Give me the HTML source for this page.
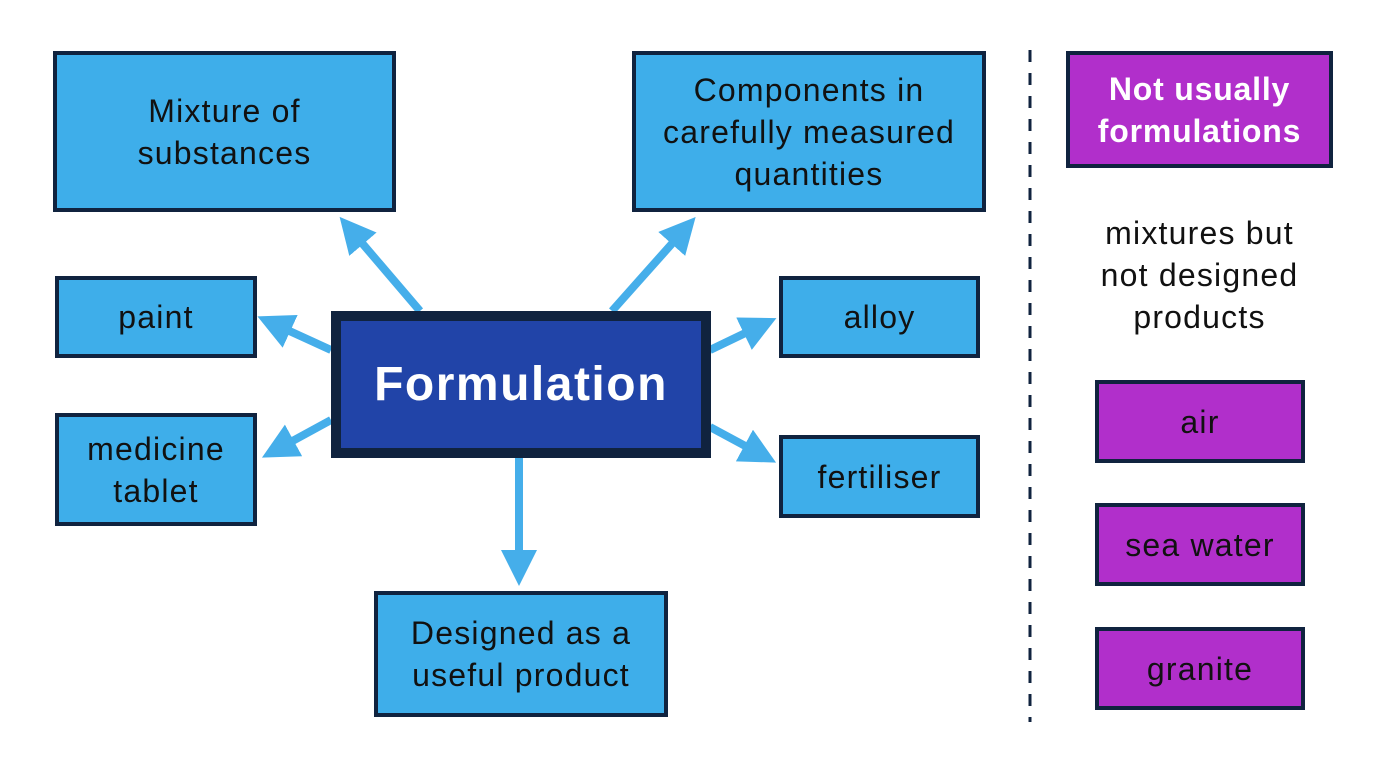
<!DOCTYPE html>
<html><head><style>
body{margin:0;width:1376px;height:768px;background:#fff;position:relative;overflow:hidden;font-family:"Liberation Sans",sans-serif}
.b{position:absolute;box-sizing:border-box;border:4px solid #10233f;background:#3eaeea;color:#111;display:flex;align-items:center;justify-content:center;text-align:center;font-size:32px;line-height:42px;letter-spacing:1.2px}
.m{background:#b12fcb}
</style></head><body>
<svg width="1376" height="768" style="position:absolute;left:0;top:0">
<defs><marker id="a" markerWidth="4.5" markerHeight="4.5" refX="2.5" refY="2.25" orient="auto" markerUnits="strokeWidth"><path d="M0,0 L4.5,2.25 L0,4.5 Z" fill="#45aeea"/></marker></defs>
<g stroke="#45aeea" stroke-width="8" marker-end="url(#a)">
<line x1="420" y1="311" x2="350" y2="229"/>
<line x1="612" y1="311" x2="685" y2="229"/>
<line x1="331" y1="350" x2="272" y2="323"/>
<line x1="331" y1="420" x2="276" y2="450"/>
<line x1="710" y1="350" x2="762" y2="325"/>
<line x1="710" y1="427" x2="762" y2="455"/>
<line x1="519" y1="457" x2="519" y2="570"/>
</g>
<line x1="1030" y1="50" x2="1030" y2="722" stroke="#10233f" stroke-width="3" stroke-dasharray="12,11"/>
</svg>
<div class="b" style="left:53px;top:51px;width:343px;height:161px">Mixture of<br>substances</div>
<div class="b" style="left:632px;top:51px;width:354px;height:161px">Components in<br>carefully measured<br>quantities</div>
<div class="b" style="left:55px;top:276px;width:202px;height:82px">paint</div>
<div class="b" style="left:55px;top:413px;width:202px;height:113px">medicine<br>tablet</div>
<div class="b" style="left:779px;top:276px;width:201px;height:82px">alloy</div>
<div class="b" style="left:779px;top:435px;width:201px;height:83px">fertiliser</div>
<div class="b" style="left:374px;top:591px;width:294px;height:126px">Designed as a<br>useful product</div>
<div class="b" style="left:331px;top:311px;width:380px;height:147px;border:10px solid #10233f;background:#2144a8;color:#fff;font-weight:bold;font-size:48px;letter-spacing:1.5px">Formulation</div>
<div class="b m" style="left:1066px;top:51px;width:267px;height:117px;color:#fff;font-weight:bold;letter-spacing:0.8px">Not usually<br>formulations</div>
<div style="position:absolute;left:1066px;top:212px;width:267px;text-align:center;font-size:32px;line-height:42px;letter-spacing:1.2px;color:#111">mixtures but<br>not designed<br>products</div>
<div class="b m" style="left:1095px;top:380px;width:210px;height:83px">air</div>
<div class="b m" style="left:1095px;top:503px;width:210px;height:83px">sea water</div>
<div class="b m" style="left:1095px;top:627px;width:210px;height:83px">granite</div>
</body></html>
